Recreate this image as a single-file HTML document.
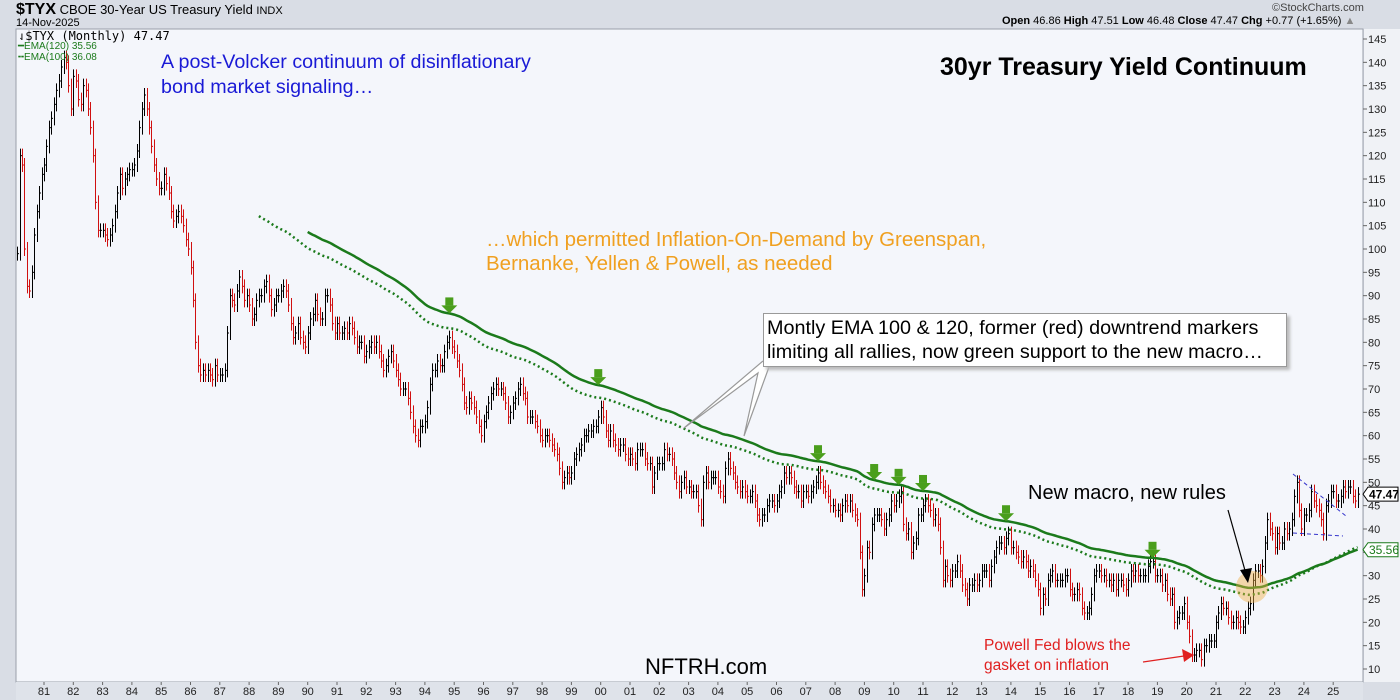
<!DOCTYPE html>
<html><head><meta charset="utf-8"><style>
html,body{margin:0;padding:0;width:1400px;height:700px;overflow:hidden;background:#d9dde5;font-family:"Liberation Sans",sans-serif}
#root{position:relative;width:1400px;height:700px}
.t{position:absolute;white-space:nowrap}
</style></head><body>
<div id="root">
<div class="t" style="left:16px;top:1px;font-size:13px;color:#000"><b style="font-size:16px">$TYX</b> CBOE 30-Year US Treasury Yield <span style="font-size:11px">INDX</span></div>
<div class="t" style="left:16px;top:17px;font-size:11px;color:#000">14-Nov-2025</div>
<div class="t" style="left:1272px;top:2px;font-size:11px;color:#444">©StockCharts.com</div>
<div class="t" style="left:1002px;top:15px;font-size:11px;color:#000"><b>Open</b> 46.86 <b>High</b> 47.51 <b>Low</b> 46.48 <b>Close</b> 47.47 <b>Chg</b> +0.77 (+1.65%) <span style="color:#888">▲</span></div>
<svg id="chart" width="1400" height="700" style="position:absolute;left:0;top:0"></svg>
</div>
<script>
// Monthly closes of $TYX (yield x10), starting Feb 1980, ending Nov 2025
const startIndex = 1; // month index from Jan 1980
const closes = [
99,120,118,100,92,91,95,103,108,112,116,
118,122,126,128,131,134,136,139,141,140,135,130,
137,136,132,131,135,134,130,126,120,110,104,104,
104,103,102,103,105,108,112,116,113,115,116,117,
117,118,121,126,130,133,130,126,122,118,115,113,
113,116,114,112,108,106,107,108,107,105,102,100,
96,89,80,75,73,74,73,74,73,72,75,73,
73,73,74,82,90,89,88,91,94,92,89,90,
88,85,86,89,90,90,92,93,90,87,88,90,
90,91,92,91,88,84,81,82,84,81,80,79,
82,85,86,89,86,85,85,90,90,88,84,82,
84,82,82,83,82,84,83,81,79,80,80,77,
78,79,80,79,80,78,76,74,75,77,78,76,
74,72,70,70,70,68,65,62,60,59,62,62,
63,66,71,74,74,76,75,75,78,80,81,79,
78,76,74,71,67,66,68,67,66,64,62,60,
63,65,67,69,70,71,70,70,69,67,64,65,
67,68,70,71,69,68,64,64,64,63,62,60,
59,60,60,59,58,57,56,53,50,51,52,51,
52,55,56,57,58,60,60,61,61,62,62,64,
66,64,61,59,61,59,58,57,58,58,56,55,
56,55,54,57,57,57,55,54,54,49,52,54,
54,54,57,56,56,55,52,50,48,50,51,49,
49,48,48,48,45,42,50,52,50,51,51,51,
49,48,47,53,55,53,52,50,49,48,49,48,
47,47,48,46,43,42,43,43,45,46,46,45,
46,48,49,52,51,52,51,49,48,48,46,48,
48,47,48,49,50,52,50,49,48,47,45,45,
44,44,43,45,46,45,46,44,43,42,35,27,
30,36,35,41,43,43,43,42,40,42,43,46,
45,46,47,48,41,39,40,35,37,38,43,43,
45,46,45,44,42,43,41,36,29,32,30,29,
31,31,33,31,28,27,25,28,28,29,28,29,
31,31,31,29,32,34,36,37,37,36,38,39,
36,36,35,34,33,34,33,31,32,31,29,27,
23,26,25,29,30,31,29,29,29,29,30,30,
27,26,26,27,26,23,22,22,23,26,30,31,
31,30,30,29,29,28,29,27,29,29,28,27,
29,31,30,31,30,30,30,30,32,33,33,30,
30,30,28,29,26,25,26,20,21,22,22,24,
20,17,13,13,14,14,12,15,15,16,16,16,
20,22,24,23,23,21,20,20,21,20,19,19,
21,23,24,29,31,31,30,32,37,42,40,39,
36,39,37,37,40,39,40,42,47,50,44,40,
43,43,44,48,46,45,44,42,39,45,46,48,
48,46,46,47,49,48,49,49,47,46,47.47
];
const yTicks = [10,15,20,25,30,35,40,45,50,55,60,65,70,75,80,85,90,95,100,105,110,115,120,125,130,135,140,145];
const xTickLabels = ["81","82","83","84","85","86","87","88","89","90","91","92","93","94","95","96","97","98","99","00","01","02","03","04","05","06","07","08","09","10","11","12","13","14","15","16","17","18","19","20","21","22","23","24","25"];
const firstLabelYear = 1981;
const markerMonths = [178,239,329,352,362,372,406,466]; // green downtrend markers (month index)

const NS="http://www.w3.org/2000/svg";
const svg=document.getElementById('chart');
const L=16,T=29,R=1363,B=682;
function xOf(i){return 44+(i-12)*29.3/12;}
function yOf(v){return 39+(145-v)*(630/135);}
function el(tag,attrs,parent){const e=document.createElementNS(NS,tag);for(const k in attrs)e.setAttribute(k,attrs[k]);(parent||svg).appendChild(e);return e;}
function txt(x,y,s,attrs){const e=el('text',Object.assign({x:x,y:y},attrs||{}));e.textContent=s;return e;}

const bg=el('rect',{x:L,y:T,width:R-L,height:B-T,fill:'#f4f6fb',stroke:'#9aa0aa'});


const ax=el('rect',{x:R+1,y:T,width:1400-R-1,height:B-T,fill:'#f0f2f6'});


const bx=el('rect',{x:L,y:B,width:R-L,height:18,fill:'#dfe3ea'});



yTicks.forEach(v=>{
  const y=yOf(v);
  el('line',{x1:R,x2:R+4,y1:y,y2:y,stroke:'#666'});
  const t=txt(R+5,y+4,String(v),{'font-size':'11','fill':'#222','font-family':'Liberation Sans, sans-serif'});
  
  
});
xTickLabels.forEach((s,k)=>{
  const x=xOf((firstLabelYear-1980+k)*12);
  el('line',{x1:x,x2:x,y1:B,y2:B+3,stroke:'#666'});
  const t=txt(x,B+13,s,{'font-size':'11','fill':'#222','text-anchor':'middle','font-family':'Liberation Sans, sans-serif'});
  
  
});

const gBars=el('g',{});


for(let k=0;k<closes.length;k++){
  const c=closes[k];const o=k>0?closes[k-1]:c;
  const hi=Math.max(o,c)+1.5, lo=Math.min(o,c)-1.5;
  const x=Math.round(xOf(startIndex+k))+0.5;
  const col=c<o?'#d01010':'#000';
  el('line',{x1:x,x2:x,y1:yOf(hi),y2:yOf(lo),stroke:col,'stroke-width':1},gBars);
  el('line',{x1:x,x2:x+1.5,y1:yOf(c),y2:yOf(c),stroke:col,'stroke-width':1},gBars);
}

function ema(n){const out=[];let e=null;let s=0;for(let k=0;k<closes.length;k++){if(k<n){s+=closes[k];if(k===n-1){e=s/n;out.push(e);}else out.push(null);}else{e=e+(2/(n+1))*(closes[k]-e);out.push(e);}}return out;}
function path(arr){let d='';arr.forEach((v,k)=>{if(v==null)return;d+=(d?'L':'M')+xOf(startIndex+k).toFixed(1)+','+yOf(v).toFixed(1);});return d;}
const ema120=ema(120);
const e120=el('path',{d:path(ema120),fill:'none',stroke:'#1b7a1b','stroke-width':2.5});


const e100=el('path',{d:path(ema(100)),fill:'none',stroke:'#1b7a1b','stroke-width':2.5,'stroke-dasharray':'2,3'});



markerMonths.forEach(m=>{
  const k=m-startIndex;const x=xOf(m);
  const ev=ema120[k]!=null?ema120[k]:closes[k];
  const yTop=yOf(ev)-16;
  const g=el('g',{});
  
  
  el('rect',{x:x-4,y:yTop,width:8,height:8,fill:'#4a9e1c'},g);
  el('polygon',{points:`${x-8},${yTop+8} ${x+8},${yTop+8} ${x},${yTop+16}`,fill:'#4a9e1c'},g);
});

const circ=el('circle',{cx:1252,cy:587,r:16,fill:'rgba(240,175,70,0.45)'});


const a1=el('line',{x1:1228,y1:510,x2:1246,y2:574,stroke:'#000','stroke-width':1.2});


el('polygon',{points:'1248,583 1240,570 1252,568',fill:'#000'});
const d1=el('line',{x1:1293,y1:474,x2:1346,y2:516,stroke:'#3333cc','stroke-dasharray':'4,3'});


const d2=el('line',{x1:1293,y1:533,x2:1343,y2:536,stroke:'#3333cc','stroke-dasharray':'4,3'});


const ra=el('line',{x1:1143,y1:662,x2:1184,y2:656,stroke:'#e02020','stroke-width':1.2});


el('polygon',{points:'1194,655 1182,649 1184,662',fill:'#e02020'});
const cp=el('polyline',{points:'763,361 684,428 758,373 744,436 769,367',fill:'#fff',stroke:'#999','stroke-width':1.2});



function valBox(v,col,name){const y=yOf(v);const g=el('g',{});


el('polygon',{points:`${R},${y} ${R+5},${y-7} ${1398},${y-7} ${1398},${y+7} ${R+5},${y+7}`,fill:'#fff',stroke:col},g);
const t=txt(R+6,y+4.5,v.toFixed(2),{'font-size':'12','fill':col,'font-weight':col==='#000'?'bold':'normal'});g.appendChild(t);}
valBox(closes[closes.length-1],'#000','last-price-label');
valBox(35.56,'#1b7a1b','ema-120-value-label');
</script>
<div class="t" style="left:18px;top:29px;font-size:12px;font-family:'DejaVu Sans Mono','Liberation Mono',monospace;color:#000">⇃$TYX (Monthly) 47.47</div>
<div class="t" style="left:18px;top:41px;font-size:10px;color:#1b7a1b">━EMA(120) 35.56</div>
<div class="t" style="left:18px;top:52px;font-size:10px;color:#1b7a1b">╍EMA(100) 36.08</div>
<div class="t" style="left:940px;top:53px;font-size:25px;font-weight:bold;color:#000">30yr Treasury Yield Continuum</div>
<div class="t" style="left:161px;top:50px;font-size:19.7px;line-height:25px;color:#1a1ad6">A post-Volcker continuum of disinflationary<br>bond market signaling…</div>
<div class="t" style="left:486px;top:228px;font-size:20.5px;line-height:24px;color:#f0a020">…which permitted Inflation-On-Demand by Greenspan,<br>Bernanke, Yellen &amp; Powell, as needed</div>
<div class="t" style="left:763px;top:313px;width:524px;height:54px;background:#fff;border:1px solid #999;box-shadow:3px 3px 3px #bbb;font-size:19.8px;line-height:24px;padding:2px 0 0 3px;box-sizing:border-box;color:#000">Montly EMA 100 &amp; 120, former (red) downtrend markers<br>limiting all rallies, now green support to the new macro…</div>
<div class="t" style="left:1028px;top:482px;font-size:20px;color:#000">New macro, new rules</div>
<div class="t" style="left:984px;top:636px;font-size:15.5px;line-height:20px;color:#e02020">Powell Fed blows the<br>gasket on inflation</div>
<div class="t" style="left:645px;top:654px;font-size:22px;color:#000">NFTRH.com</div>
</body></html>
